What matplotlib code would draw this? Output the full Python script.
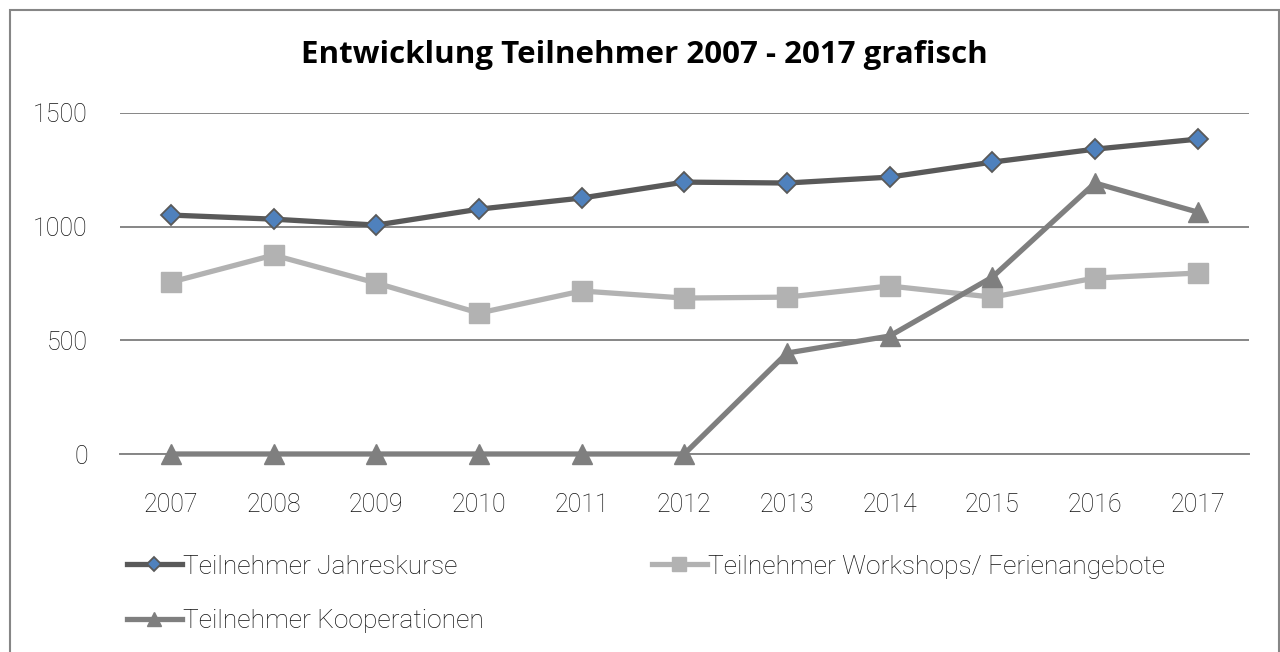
import matplotlib
matplotlib.use('Agg')
import matplotlib.pyplot as plt
from matplotlib.patches import Rectangle

# --- data ---
years = ["2007", "2008", "2009", "2010", "2011", "2012",
         "2013", "2014", "2015", "2016", "2017"]
jahreskurse = [1051, 1033, 1007, 1077, 1126, 1196, 1192, 1218, 1284, 1341, 1385]
workshops = [756, 875, 752, 620, 717, 686, 690, 739, 690, 774, 796]
kooperationen = [0, 0, 0, 0, 0, 0, 444, 519, 778, 1192, 1064]

body_font = "Roboto"
title_font = "Open Sans"

fig = plt.figure(figsize=(12.8, 6.52), dpi=100)
fig.patch.set_facecolor("white")

# outer chart border (bottom is cut off in the reference)
fig.add_artist(Rectangle((10 / 1280, -0.05), 1269 / 1280, 1.05 - 10 / 652,
                         transform=fig.transFigure, fill=False,
                         edgecolor="#868686", linewidth=1.5))

ax = fig.add_axes([119.6 / 1280, 1 - 454 / 652, (1249 - 119.6) / 1280, (454 - 113) / 652])
x = list(range(len(years)))

l_j, = ax.plot(x, jahreskurse, color="#595959", linewidth=3.8, marker="D",
               markersize=10, markerfacecolor="#4F81BD", markeredgecolor="#595959",
               markeredgewidth=1.3, zorder=4)
l_w, = ax.plot(x, workshops, color="#B2B2B2", linewidth=3.8, marker="s",
               markersize=14, markerfacecolor="#B2B2B2", markeredgecolor="#B2B2B2",
               zorder=3)
l_k, = ax.plot(x, kooperationen, color="#7F7F7F", linewidth=3.8, marker="^",
               markersize=15, markerfacecolor="#7F7F7F", markeredgecolor="#7F7F7F",
               zorder=3, clip_on=False)

ax.set_xlim(-0.5, len(years) - 0.5)
ax.set_ylim(0, 1500)
ax.set_yticks([0, 500, 1000, 1500])
ax.set_xticks(x)
ax.set_xticklabels(years)
ax.grid(axis="y", color="#868686", linewidth=1.4)
ax.set_axisbelow(True)
for side in ["top", "right", "left"]:
    ax.spines[side].set_visible(False)
ax.spines["bottom"].set_color("#868686")
ax.spines["bottom"].set_linewidth(1.4)
ax.tick_params(axis="both", length=0, labelsize=18, labelcolor="#111111")
ax.tick_params(axis="x", pad=28)
ax.tick_params(axis="y", pad=23)
for lab in ax.get_xticklabels() + ax.get_yticklabels():
    lab.set_fontfamily(body_font)
    lab.set_fontweight("light")

fig.text(644 / 1280, 1 - 55 / 652, "Entwicklung Teilnehmer 2007 - 2017 grafisch",
         ha="center", va="center", fontsize=22.5, fontweight="bold", family=title_font)

leg_kw = dict(frameon=False, handlelength=2.1, handletextpad=0.05, labelspacing=1.15,
              prop={"family": body_font, "size": 19, "weight": "light"}, borderaxespad=0)
leg1 = fig.legend([l_j, l_k], ["Teilnehmer Jahreskurse", "Teilnehmer Kooperationen"],
                  loc="upper left", bbox_to_anchor=(116 / 1280, 1 - 544 / 652), **leg_kw)
leg2 = fig.legend([l_w], ["Teilnehmer Workshops/ Ferienangebote"],
                  loc="upper left", bbox_to_anchor=(641 / 1280, 1 - 544 / 652), **leg_kw)
for leg in (leg1, leg2):
    for h in leg.legend_handles:
        h.set_markersize(h.get_markersize() * 0.7)
    for t in leg.get_texts():
        t.set_color("#111111")

fig.savefig("out.png", dpi=100)
